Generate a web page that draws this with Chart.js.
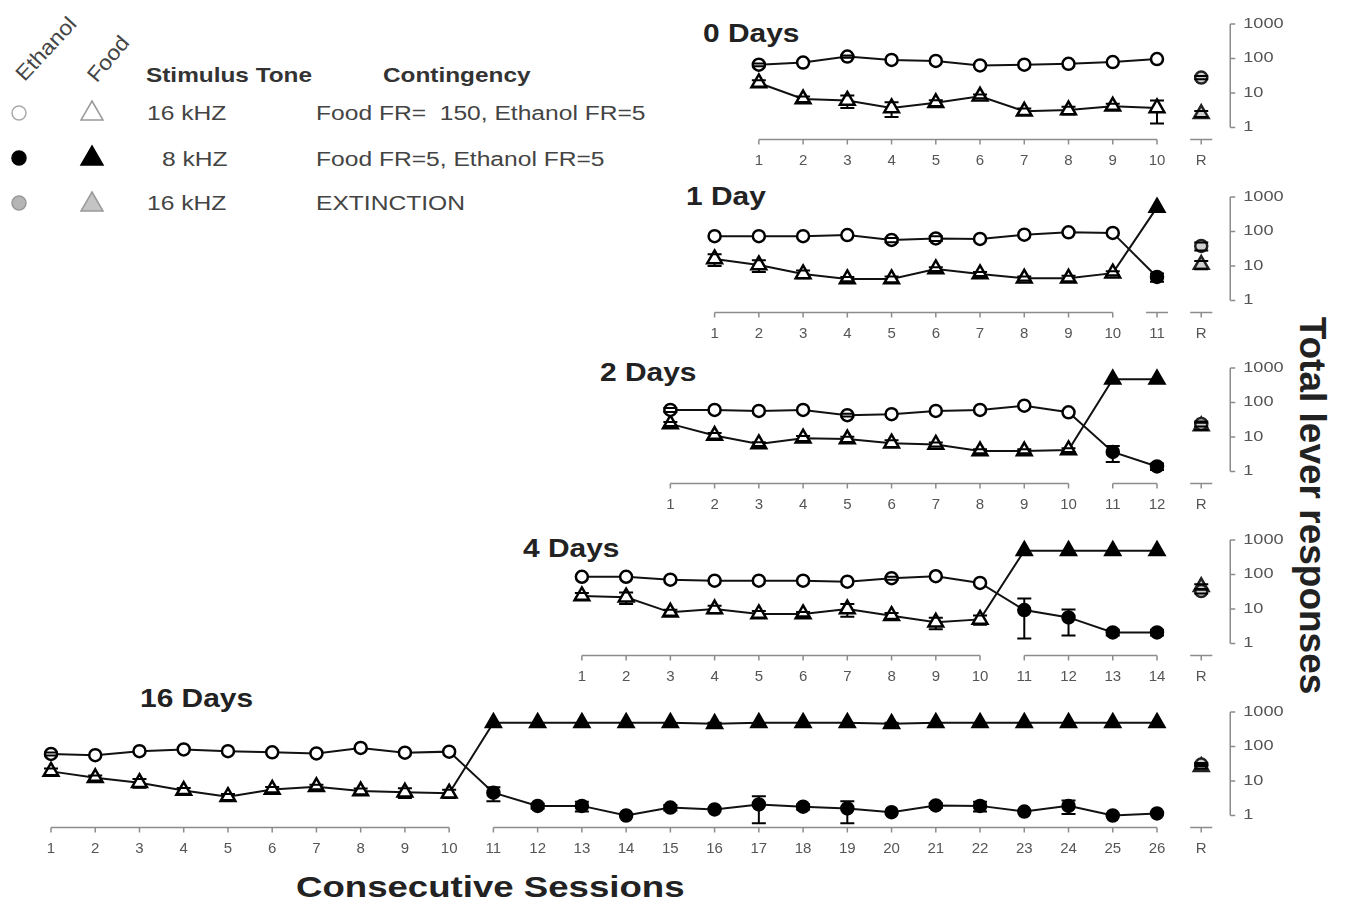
<!DOCTYPE html>
<html>
<head>
<meta charset="utf-8">
<script src="https://cdn.jsdelivr.net/npm/chart.js@4.4.1/dist/chart.umd.min.js"></script>
<style>
  body { margin: 0; background: #fff; }
  #page { position: relative; width: 1347px; height: 906px; background: #fff; overflow: hidden; font-family: "Liberation Sans", Arial, sans-serif; color: #222; }
  #page canvas { position: absolute; left: 0; }
  .t { position: absolute; white-space: pre; line-height: 1; transform-origin: left center; }
  .hd { font-weight: bold; font-size: 21px; transform: scaleX(1.16); color: #333; }
  .row { font-size: 20px; transform: scaleX(1.23); color: #444; }
  .title { font-weight: bold; font-size: 26px; transform: scaleX(1.15); color: #222; }
  .rot { position: absolute; font-size: 21px; color: #444; white-space: pre; line-height: 1; transform-origin: center; }
  .mk { position: absolute; }
</style>
</head>
<body>
<div id="page">
  <div class="rot" style="left:10px;top:38px;transform:rotate(-47deg) scaleX(1.1);">Ethanol</div>
  <div class="rot" style="left:84px;top:48px;transform:rotate(-50deg) scaleX(1.1);">Food</div>
  <div class="t hd" style="left:146px;top:64px;">Stimulus Tone</div>
  <div class="t hd" style="left:383px;top:64px;">Contingency</div>

  <svg class="mk" style="left:9px;top:104px" width="20" height="20"><circle cx="10" cy="9" r="7" fill="#fff" stroke="#aaa" stroke-width="1.5"/></svg>
  <svg class="mk" style="left:78px;top:99px" width="28" height="24"><polygon points="14,2 25,21 3,21" fill="#fff" stroke="#999" stroke-width="1.5"/></svg>
  <div class="t row" style="left:147px;top:103px;">16 kHZ</div>
  <div class="t row" style="left:316px;top:103px;">Food FR=  150, Ethanol FR=5</div>

  <svg class="mk" style="left:9px;top:149px" width="20" height="20"><circle cx="10" cy="9" r="7" fill="#000" stroke="#000" stroke-width="1.5"/></svg>
  <svg class="mk" style="left:78px;top:144px" width="28" height="24"><polygon points="14,2 25,21 3,21" fill="#000" stroke="#000" stroke-width="1.5"/></svg>
  <div class="t row" style="left:162px;top:149px;">8 kHZ</div>
  <div class="t row" style="left:316px;top:149px;">Food FR=5, Ethanol FR=5</div>

  <svg class="mk" style="left:9px;top:194px" width="20" height="20"><circle cx="10" cy="9" r="7" fill="#b5b5b5" stroke="#999" stroke-width="1.5"/></svg>
  <svg class="mk" style="left:78px;top:190px" width="28" height="24"><polygon points="14,2 25,21 3,21" fill="#c4c4c4" stroke="#999" stroke-width="1.5"/></svg>
  <div class="t row" style="left:147px;top:193px;">16 kHZ</div>
  <div class="t row" style="left:316px;top:193px;">EXTINCTION</div>

  <div class="t title" style="left:703px;top:20px;">0 Days</div>
  <div class="t title" style="left:686px;top:183px;">1 Day</div>
  <div class="t title" style="left:600px;top:359px;">2 Days</div>
  <div class="t title" style="left:523px;top:535px;">4 Days</div>
  <div class="t title" style="left:140px;top:685px;">16 Days</div>

  <div class="t" style="left:296px;top:872px;font-weight:bold;font-size:30px;transform:scaleX(1.22);color:#222;">Consecutive Sessions</div>
  <div class="t" style="left:1117px;top:487px;width:390px;text-align:center;font-weight:bold;font-size:37px;transform-origin:center;transform:rotate(90deg);color:#222;">Total lever responses</div>
</div>

<script>
// panel names
const panelTitles = ['0 Days', '1 Day', '2 Days', '4 Days', '16 Days'];
const yTicks = [1, 10, 100, 1000];

// ethanol lever (circles), food lever (triangles), per session; sessions 11+ are the 8 kHZ phase
const ethanol0 = [66, 76, 114, 91, 85, 63, 66, 70, 79, 96];
const food0 = [19.5, 6.7, 6.1, 3.7, 5.2, 8, 2.95, 3.2, 4.1, 3.7];
const ethanolErr0 = [6, 0, 8, 0, 0, 0, 0, 0, 0, 0];
const foodErr0 = [4, 1.2, 2.4, 1.7, 1, 1, 0.6, 0.8, 0.8, 2.4];

const ethanol1 = [73, 73, 73, 79, 57, 63, 61, 81, 95, 91, 4.8];
const food1 = [16, 10.7, 5.9, 4.2, 4.2, 8.2, 5.9, 4.4, 4.4, 6.2, 500];
const ethanolErr1 = [0, 0, 0, 0, 8, 10, 0, 0, 0, 0, 1.3];
const foodErr1 = [6, 4, 1.5, 0.6, 0.8, 1, 0.8, 0.6, 0.8, 0.8, 0];

const ethanol2 = [61, 61, 57, 61, 43, 46, 57, 61, 81, 52, 3.7, 1.4];
const food2 = [24, 11, 6.3, 9.2, 8.7, 6.6, 6.1, 3.9, 3.9, 4.2, 470, 470];
const ethanolErr2 = [8, 0, 0, 0, 4, 0, 0, 0, 0, 0, 1.8, 0.3];
const foodErr2 = [3, 2, 0.8, 1.5, 1.5, 1.5, 0.8, 0.5, 0.5, 0.5, 0, 0];

const ethanol4 = [86, 86, 71, 66, 66, 66, 62, 78, 89, 57, 9.3, 5.7, 2.1, 2.1];
const food4 = [24, 22, 8, 10, 7.2, 7.2, 10, 6.4, 4.1, 5, 490, 490, 490, 490];
const ethanolErr4 = [0, 0, 0, 0, 0, 0, 0, 8, 0, 0, 11, 4, 0.4, 0.4];
const foodErr4 = [5, 8, 1.5, 2.5, 1.5, 1, 4, 1.2, 1.5, 1.5, 0, 0, 0, 0];

const ethanol16 = [61, 56, 73, 82, 73, 68, 63, 91, 66, 71, 4.6, 1.9, 1.9, 1.0, 1.7, 1.5, 2.1, 1.8, 1.6, 1.25, 1.95, 1.9, 1.3, 1.9, 1.0, 1.15];
const food16 = [19, 12.4, 8.9, 5.3, 3.5, 5.7, 6.8, 5.1, 4.7, 4.4, 490, 490, 490, 490, 490, 460, 490, 490, 490, 460, 490, 490, 490, 490, 490, 490];
const ethanolErr16 = [6, 0, 0, 0, 0, 0, 0, 0, 0, 0, 2, 0.3, 0.6, 0, 0.3, 0, 1.5, 0.3, 1, 0, 0.3, 0.6, 0, 0.8, 0, 0];
const foodErr16 = [4, 2, 2.5, 1, 0.7, 1, 1, 1, 1.5, 1.2, 0, 0, 0, 0, 0, 30, 0, 0, 0, 30, 0, 0, 0, 0, 0, 0];

// reinstatement (R) test, extinction
const rEthanol = [28, 38, 24, 33, 30];
const rFood = [2.5, 11, 21, 44, 26];
const rEthanolErr = [3, 10, 4, 5, 3];
const rFoodErr = [0.5, 3, 5, 8, 3];

const panels = [
  [ethanol0, food0, ethanolErr0, foodErr0],
  [ethanol1, food1, ethanolErr1, foodErr1],
  [ethanol2, food2, ethanolErr2, foodErr2],
  [ethanol4, food4, ethanolErr4, foodErr4],
  [ethanol16, food16, ethanolErr16, foodErr16]
];

const canvasTops = [0, 173, 344, 516, 688];
const W = 1347, H = 172, step = 44.24, lastPx = 1157, onePx = 127.5, decade = 34.5;

// stems go under the markers, caps on top
function eachError(chart, fn) {
  const { ctx, scales: { y } } = chart;
  ctx.save();
  ctx.strokeStyle = '#000';
  ctx.lineWidth = 2;
  chart.data.datasets.forEach((ds, di) => {
    if (!ds.errors) return;
    const meta = chart.getDatasetMeta(di);
    ds.errors.forEach((e, i) => {
      if (!e) return;
      const p = meta.data[i];
      const v = ds.data[i].y;
      const hi = y.getPixelForValue(v + e);
      const lo = y.getPixelForValue(Math.max(v - e, v * 0.15));
      ctx.beginPath();
      fn(ctx, p.x, hi, lo);
      ctx.stroke();
    });
  });
  ctx.restore();
}

const errorBars = {
  id: 'errorBars',
  beforeDatasetsDraw(chart) {
    eachError(chart, (ctx, px, hi, lo) => { ctx.moveTo(px, hi); ctx.lineTo(px, lo); });
  },
  afterDatasetsDraw(chart) {
    eachError(chart, (ctx, px, hi, lo) => {
      ctx.moveTo(px - 7, hi); ctx.lineTo(px + 7, hi);
      ctx.moveTo(px - 7, lo); ctx.lineTo(px + 7, lo);
    });
  }
};

const panelAxes = {
  id: 'panelAxes',
  afterDraw(chart, args, opts) {
    const { ctx, scales: { x, y } } = chart;
    const n = opts.n;
    const base = y.getPixelForValue(1) + 12;
    ctx.save();
    ctx.strokeStyle = '#8c8c8c';
    ctx.lineWidth = 1.5;
    const segs = [[1, 10]];
    if (n > 11) segs.push([11, n]);
    if (n === 11) segs.push([10.75, 11.25]);
    segs.push([n + 0.75, n + 1.25]);
    segs.forEach(([a, b]) => {
      ctx.beginPath();
      ctx.moveTo(x.getPixelForValue(a), base);
      ctx.lineTo(x.getPixelForValue(b), base);
      for (let s = Math.ceil(a); s <= b; s++) {
        const px = x.getPixelForValue(s);
        ctx.moveTo(px, base); ctx.lineTo(px, base + 5);
      }
      ctx.stroke();
    });
    ctx.fillStyle = '#555';
    ctx.font = '15px "Liberation Sans", Arial, sans-serif';
    ctx.textAlign = 'center';
    ctx.textBaseline = 'middle';
    for (let s = 1; s <= n; s++) ctx.fillText(String(s), x.getPixelForValue(s), base + 21);
    ctx.fillText('R', x.getPixelForValue(n + 1), base + 21);

    const ax = x.getPixelForValue(n + 1) + 29;
    ctx.beginPath();
    ctx.moveTo(ax, y.getPixelForValue(yTicks[0]));
    ctx.lineTo(ax, y.getPixelForValue(yTicks[yTicks.length - 1]));
    yTicks.forEach(t => {
      const py = y.getPixelForValue(t);
      ctx.moveTo(ax, py); ctx.lineTo(ax + 5, py);
    });
    ctx.stroke();
    ctx.textAlign = 'left';
    ctx.font = '14px "Liberation Sans", Arial, sans-serif';
    yTicks.forEach(t => {
      ctx.save();
      ctx.translate(ax + 13, y.getPixelForValue(t));
      ctx.scale(1.3, 1);
      ctx.fillText(String(t), 0, 0);
      ctx.restore();
    });
    ctx.restore();
  }
};

const page = document.getElementById('page');
panels.forEach(([eth, food, ethErr, foodErr], k) => {
  const n = eth.length;
  const sessions = eth.map((_, i) => i + 1);
  const fill = sessions.map(s => (s <= 10 ? '#fff' : '#000'));
  const canvas = document.createElement('canvas');
  canvas.width = W; canvas.height = H;
  canvas.style.top = canvasTops[k] + 'px';
  page.appendChild(canvas);
  const xmin = n - lastPx / step;
  new Chart(canvas, {
    type: 'line',
    data: {
      datasets: [
        {
          label: 'Ethanol', data: sessions.map((s, i) => ({ x: s, y: eth[i] })), errors: ethErr,
          borderColor: '#111', borderWidth: 2, pointStyle: 'circle', pointRadius: 6,
          pointBorderWidth: 2.5, pointBorderColor: '#000', pointBackgroundColor: fill, clip: false
        },
        {
          label: 'Food', data: sessions.map((s, i) => ({ x: s, y: food[i] })), errors: foodErr,
          borderColor: '#111', borderWidth: 2, pointStyle: 'triangle', pointRadius: 8.5,
          pointBorderWidth: 2.5, pointBorderColor: '#000', pointBackgroundColor: fill, clip: false
        },
        {
          label: 'Ethanol R', data: [{ x: n + 1, y: rEthanol[k] }], errors: [rEthanolErr[k]], showLine: false,
          pointStyle: 'circle', pointRadius: 6, pointBorderWidth: 2.5, pointBorderColor: '#222',
          pointBackgroundColor: '#d0d0d0', clip: false
        },
        {
          label: 'Food R', data: [{ x: n + 1, y: rFood[k] }], errors: [rFoodErr[k]], showLine: false,
          pointStyle: 'triangle', pointRadius: 8.5, pointBorderWidth: 2.5, pointBorderColor: '#222',
          pointBackgroundColor: '#d0d0d0', clip: false
        }
      ]
    },
    options: {
      responsive: false,
      animation: false,
      events: [],
      layout: { padding: 0, autoPadding: false },
      plugins: { legend: { display: false }, tooltip: { enabled: false }, panelAxes: { n } },
      scales: {
        x: { type: 'linear', display: false, min: xmin, max: xmin + W / step },
        y: {
          type: 'logarithmic', display: false, bounds: 'data',
          min: Math.pow(10, -(H - onePx) / decade), max: Math.pow(10, onePx / decade)
        }
      }
    },
    plugins: [errorBars, panelAxes]
  });
});
</script>
</body>
</html>
